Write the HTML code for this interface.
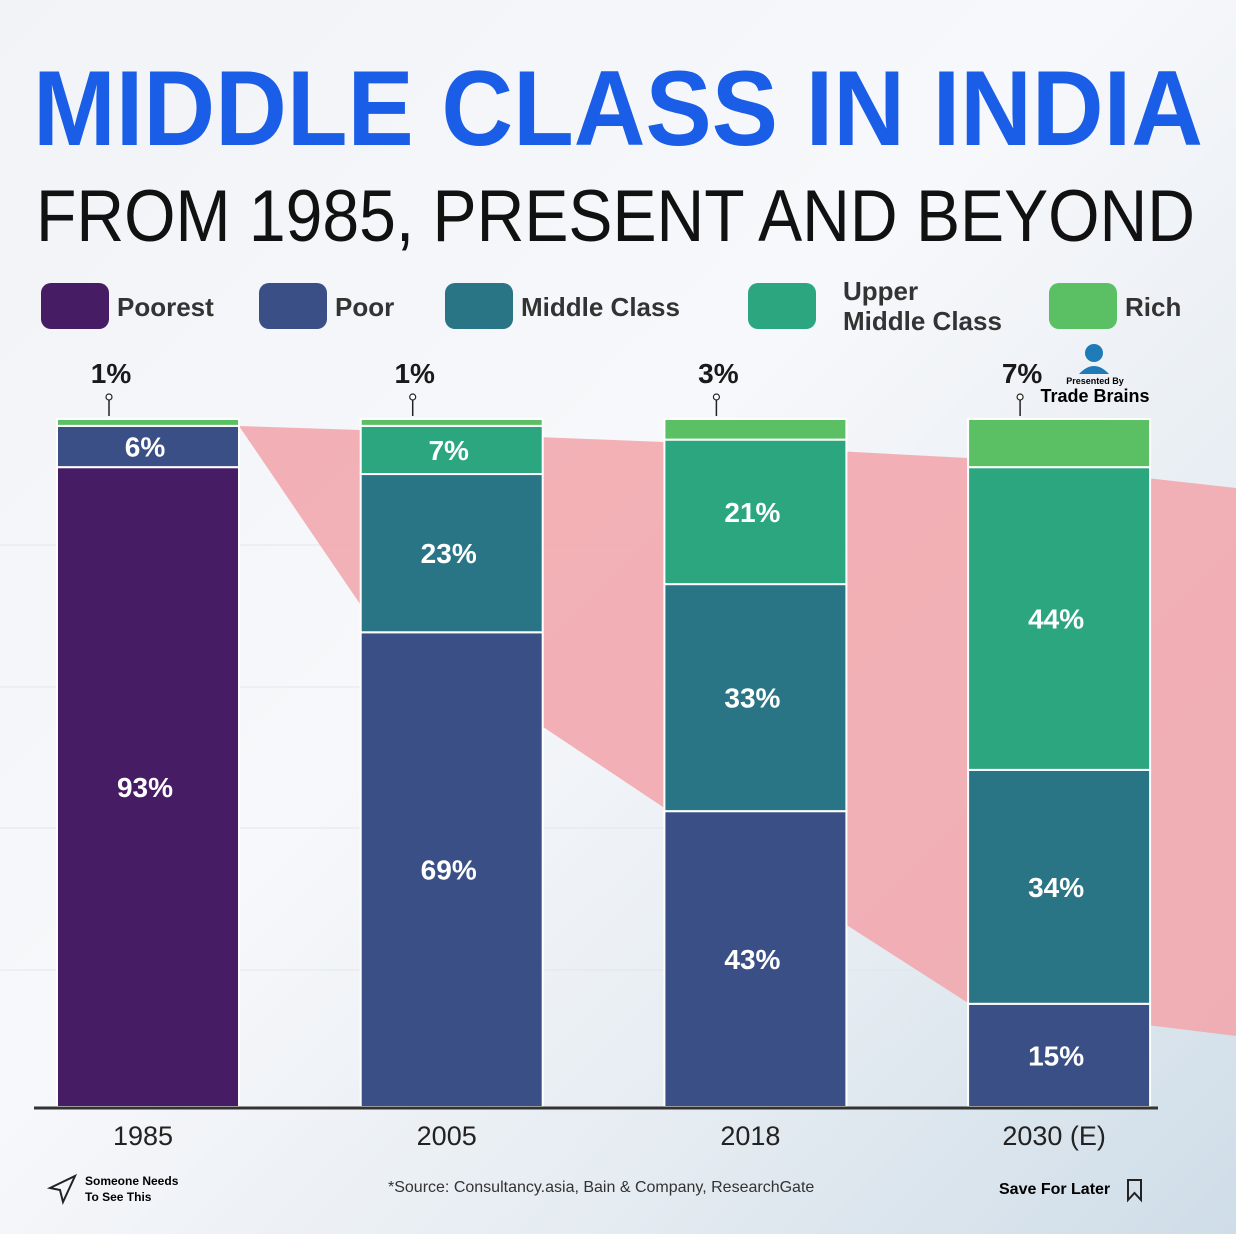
<!DOCTYPE html>
<html><head><meta charset="utf-8"><style>
body{margin:0;width:1236px;height:1234px;overflow:hidden;font-family:"Liberation Sans",sans-serif;background:linear-gradient(135deg,#f1f3f7 0%,#f7f8fb 45%,#e4ebf1 75%,#cfdde8 100%);position:relative}
.t{position:absolute;white-space:nowrap}
</style></head><body>
<svg id="chart" width="1236" height="1234" style="position:absolute;left:0;top:0"></svg>
<div class="t" style="left:1040px;top:376px;width:110px;text-align:center;font-size:9px;font-weight:bold">Presented By</div>
<div class="t" style="left:1030px;top:386px;width:130px;text-align:center;font-size:18px;font-weight:bold">Trade Brains</div>
<div class="t" style="left:85px;top:1173px;font-size:12px;font-weight:bold;line-height:16px">Someone Needs<br>To See This</div>
<div class="t" style="left:388px;top:1179px;font-size:16px;color:#333">*Source: Consultancy.asia, Bain &amp; Company, ResearchGate</div>
<div class="t" style="left:999px;top:1181px;font-size:16px;font-weight:bold">Save For Later</div>
<script>
const categories=["1985","2005","2018","2030 (E)"];
const seriesNames=["Poorest","Poor","Middle Class","Upper Middle Class","Rich"];
const poorest=[93,0,0,0];
const poor=[6,69,43,15];
const middle=[0,23,33,34];
const upper=[0,7,21,44];
const rich=[1,1,3,7];
const colors=["#461c64","#3a4f86","#2a7585","#2ba67f","#5ac063"];
const series=[poorest,poor,middle,upper,rich];
const NS="http://www.w3.org/2000/svg";
const svg=document.getElementById('chart');
const base=1107,top0=419,barW=182;
const y=v=>base-(v/100)*(base-top0);
const xL=i=>57+i*303.7;
function mk(t,a){const e=document.createElementNS(NS,t);for(const k in a)e.setAttribute(k,a[k]);svg.appendChild(e);return e;}
// titles
const ti=mk('text',{x:33,y:145,'font-size':107,'font-weight':'bold',fill:'#1a5ee8',textLength:1170,lengthAdjust:'spacingAndGlyphs'});ti.textContent='MIDDLE CLASS IN INDIA';


const st=mk('text',{x:36,y:241,'font-size':73,fill:'#111',textLength:1159,lengthAdjust:'spacingAndGlyphs'});st.textContent='FROM 1985, PRESENT AND BEYOND';


// gridlines
[545,687,828,970].forEach(g=>{const l=mk('line',{x1:0,x2:1236,y1:g,y2:g,stroke:'#e3e6ec','stroke-width':1});

});
// pink trend band
const pk=mk('polygon',{points:`${xL(0)+barW},426 ${xL(1)},430 ${xL(2)},442 ${xL(3)},458 1236,488 1236,1036 ${xL(3)},1003 ${xL(2)},808 ${xL(1)},605`,fill:'#f2a9ae',opacity:0.9});


// legend
const legX=[41,259,445,748,1049],legT=["Poorest","Poor","Middle Class","Upper\nMiddle Class","Rich"];
legX.forEach((x,i)=>{const r=mk('rect',{x:x,y:283,width:68,height:46,rx:10,fill:colors[i]});


const lines=legT[i].split('\n');lines.forEach((s,j)=>{const t=mk('text',{x:x+(i==3?95:76),y:lines.length>1?300+j*30:316,'font-size':26,'font-weight':'bold',fill:'#333','font-family':'Liberation Sans, sans-serif'});t.textContent=s;

});});
// bars
categories.forEach((c,i)=>{let acc=0;const x=xL(i);
series.forEach((s,k)=>{const v=s[i];if(!v)return;const y0=y(acc),y1=y(acc+v);acc+=v;
const r=mk('rect',{x:x,y:y1,width:barW,height:y0-y1,fill:colors[k],stroke:'#fff','stroke-width':2});


if(k<4&&v>=5){const t=mk('text',{x:x+barW/2-3,y:(y0+y1)/2+10,'text-anchor':'middle','font-size':28,'font-weight':'bold',fill:'#fff'});t.textContent=v+'%';

}});
// rich callout
const cx=x+52;mk('line',{x1:cx,x2:cx,y1:400,y2:416,stroke:'#222','stroke-width':1.5});mk('circle',{cx:cx,cy:397,r:3,fill:'#fff',stroke:'#222','stroke-width':1.2});
const t=mk('text',{x:cx+2,y:383,'text-anchor':'middle','font-size':28,'font-weight':'bold',fill:'#1a1a1a'});t.textContent=rich[i]+'%';


const xt=mk('text',{x:x+barW/2-5,y:1145,'text-anchor':'middle','font-size':27,fill:'#222'});xt.textContent=c;

});
const ax=mk('line',{x1:34,x2:1158,y1:1108,y2:1108,stroke:'#333','stroke-width':3});


// logo
mk('circle',{cx:1094,cy:353,r:9,fill:'#1e7bb8'});mk('path',{d:'M1079 374 Q1094 358 1109 374 Z',fill:'#1e7bb8'});
// share icon
const sh=mk('path',{d:'M50 1188 L75 1176 L63 1202 L60 1190 Z',fill:'none',stroke:'#222','stroke-width':2});


const bm=mk('path',{d:'M1128 1180 L1141 1180 L1141 1200 L1134.5 1193 L1128 1200 Z',fill:'none',stroke:'#222','stroke-width':2});


</script>
</body></html>
